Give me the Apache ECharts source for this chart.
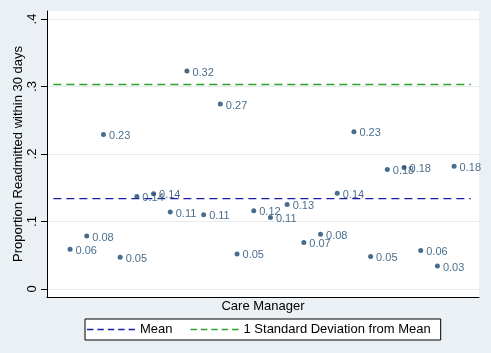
<!DOCTYPE html>
<html>
<head>
<meta charset="utf-8">
<script src="https://cdn.jsdelivr.net/npm/echarts@6/dist/echarts.min.js"></script>
<style>
  html, body { margin: 0; padding: 0; background: #eaf0f3; }
  #chartshow { width: 491px; height: 353px; }
</style>
</head>
<body>
<div id="chartshow"></div>
<script>
// 护理经理序号
const managers = [1, 2, 3, 4, 5, 6, 7, 8, 9, 10, 11, 12, 13, 14, 15, 16, 17, 18, 19, 20, 21, 22, 23, 24];
// 30天再入院比例
const readmit = [0.059, 0.0785, 0.229, 0.047, 0.137, 0.141, 0.114, 0.323, 0.110, 0.274, 0.052, 0.116,
  0.106, 0.125, 0.069, 0.081, 0.142, 0.233, 0.048, 0.177, 0.180, 0.057, 0.034, 0.182];
// 点旁边的标签
const pointLabels = ['0.06', '0.08', '0.23', '0.05', '0.14', '0.14', '0.11', '0.32', '0.11', '0.27', '0.05', '0.12',
  '0.11', '0.13', '0.07', '0.08', '0.14', '0.23', '0.05', '0.18', '0.18', '0.06', '0.03', '0.18'];
// 参考线
const meanValue = 0.134;
const sdValue = 0.303;
const lineSpan = [0, 25];
const yTicks = [0, 0.1, 0.2, 0.3, 0.4];

const scatterData = managers.map((m, i) => [m, readmit[i]]);

const chartDom = document.getElementById('chartshow');
const myChart = echarts.init(chartDom);

const font = 'Arial, "Liberation Sans", sans-serif';
// 图例里的虚线图标
const dashIcon = 'path://M0,0 L8,0 L8,2 L0,2 Z M13,0 L21,0 L21,2 L13,2 Z M26,0 L34,0 L34,2 L26,2 Z M39,0 L47,0 L47,2 L39,2 Z M52,0 L60,0 L60,2 L52,2 Z';

const chart_option = {
  backgroundColor: '#eaf0f3',
  animation: false,
  grid: {
    left: 47,
    right: 12,
    top: 11,
    bottom: 56,
    outerBoundsMode: 'none', // 不要自动收缩
    show: true,
    backgroundColor: '#ffffff',
    borderWidth: 0,
  },
  xAxis: {
    type: 'value',
    min: -0.38,
    max: 25.49,
    axisLine: { show: true, onZero: false, lineStyle: { color: '#000', width: 1 } },
    axisTick: { show: false },
    axisLabel: { show: false },
    splitLine: { show: false },
    name: 'Care Manager',
    nameLocation: 'middle',
    nameGap: 3,
    nameMoveOverlap: false,
    nameTextStyle: { fontFamily: font, fontSize: 13, color: '#000', verticalAlign: 'top' },
  },
  yAxis: {
    type: 'value',
    min: -0.0119,
    max: 0.4119,
    axisLine: { show: true, onZero: false, lineStyle: { color: '#000', width: 1 } },
    axisTick: { show: true, length: 6, customValues: yTicks, lineStyle: { color: '#000' } },
    axisLabel: {
      customValues: yTicks,
      rotate: 90,
      margin: 8,
      fontFamily: font,
      fontSize: 13,
      color: '#000',
      formatter: (v) => (v === 0 ? '0' : String(Math.round(v * 10) / 10).replace(/^0/, '')),
    },
    splitLine: { show: true, lineStyle: { color: '#e8ecee', width: 1 } },
    name: 'Proportion Readmitted within 30 days',
    nameLocation: 'middle',
    nameRotate: 90,
    nameGap: 22,
    nameMoveOverlap: false,
    nameTextStyle: { fontFamily: font, fontSize: 13, color: '#000' },
  },
  legend: {
    left: 85,
    top: 319,
    padding: [4, 10, 4, 2],
    backgroundColor: '#fff',
    borderColor: '#000',
    borderWidth: 1,
    borderRadius: 0,
    itemWidth: 48,
    itemHeight: 2,
    itemGap: 18,
    textStyle: { fontFamily: font, fontSize: 13, color: '#000' },
    data: [
      { name: 'Mean', icon: dashIcon },
      { name: '1 Standard Deviation from Mean', icon: dashIcon },
    ],
  },
  series: [
    {
      name: 'Mean',
      type: 'line',
      symbol: 'none',
      itemStyle: { color: '#1c1ca0' },
      lineStyle: { color: '#1c1ca0', width: 1.3, type: [8, 5] },
      data: [[lineSpan[0], meanValue], [lineSpan[1], meanValue]],
      z: 2,
    },
    {
      name: '1 Standard Deviation from Mean',
      type: 'line',
      symbol: 'none',
      itemStyle: { color: '#2ca02c' },
      lineStyle: { color: '#2ca02c', width: 1.3, type: [8, 5] },
      data: [[lineSpan[0], sdValue], [lineSpan[1], sdValue]],
      z: 2,
    },
    {
      name: 'readmit',
      type: 'scatter',
      symbol: 'circle',
      symbolSize: 5,
      itemStyle: { color: '#1a476f' },
      label: {
        show: true,
        position: 'right',
        distance: 3,
        offset: [0, 1.5],
        fontFamily: font,
        fontSize: 11,
        color: '#1a476f',
        formatter: (p) => pointLabels[p.dataIndex],
      },
      data: scatterData,
      z: 3,
    },
  ],
};

myChart.setOption(chart_option);
</script>
</body>
</html>
